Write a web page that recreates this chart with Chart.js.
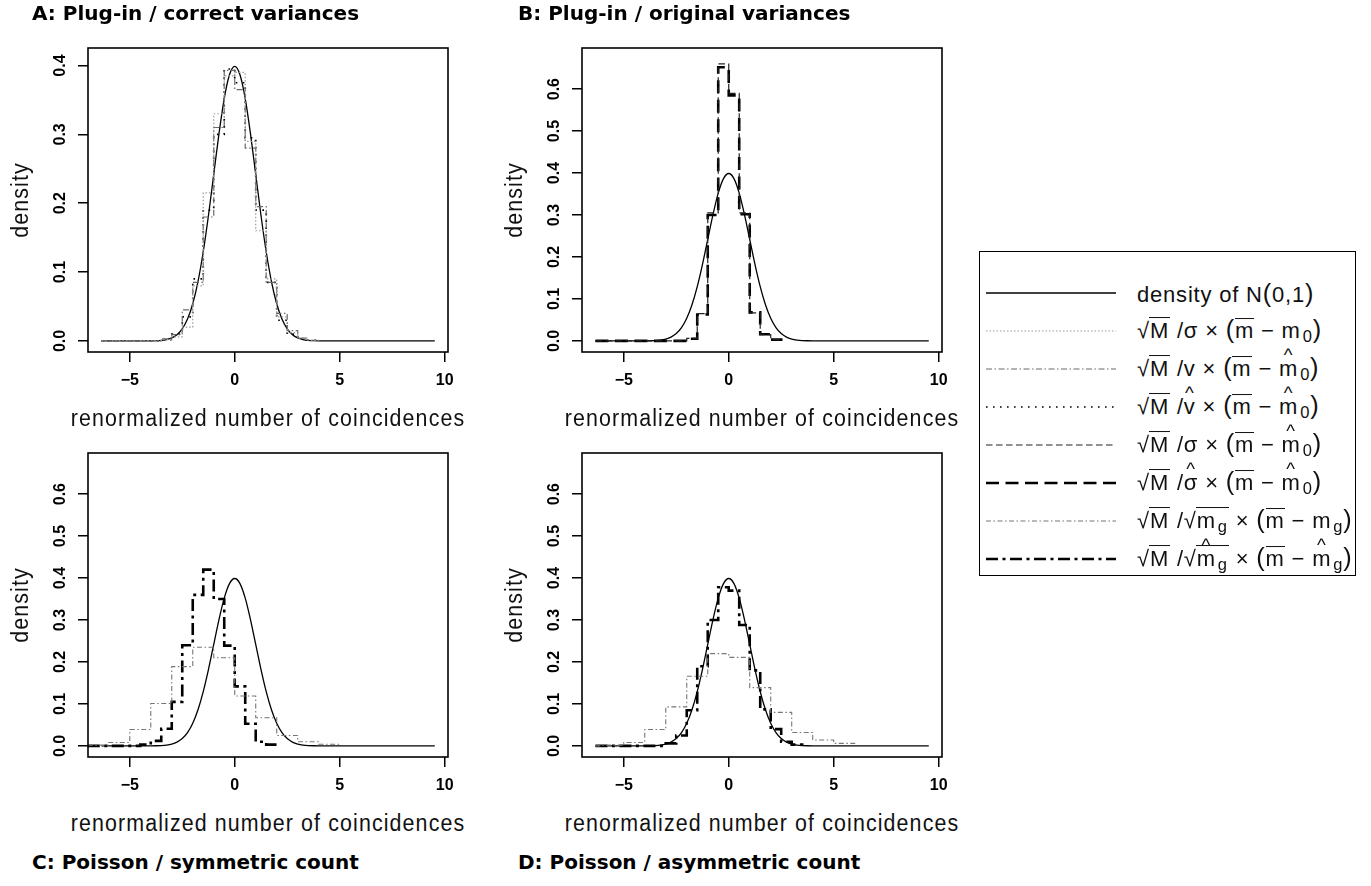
<!DOCTYPE html>
<html>
<head>
<meta charset="utf-8">
<script src="https://cdn.jsdelivr.net/npm/chart.js@4.4.1/dist/chart.umd.min.js"></script>
<style>
  body { margin: 0; background: #fff; }
  #page { position: relative; width: 1371px; height: 886px; overflow: hidden; background: #fff; }
  .panel { position: absolute; }
  .ptitle { position: absolute; font: bold 20px "DejaVu Sans", sans-serif; white-space: nowrap; transform: translateY(-50%); color: #000; }
  .xtitle, .ytitle { position: absolute; font: 23px "Liberation Sans", sans-serif; letter-spacing: 1.2px; white-space: nowrap; color: #111; }
  .xtitle { transform: translate(-50%, -50%) scaleX(0.93); }
  .ytitle { transform: translate(-50%, -50%) rotate(-90deg) scaleX(0.93); }
  #legend { position: absolute; left: 979px; top: 251px; width: 377px; height: 325px; border: 1.5px solid #000; box-sizing: border-box; }
  .lrow { position: absolute; left: 0; height: 36px; width: 100%; }
  .lrow svg { position: absolute; left: 5px; top: 0; }
  .ltext { position: absolute; left: 157px; top: 50%; transform: translateY(-50%); font: 22px "Liberation Sans", sans-serif; letter-spacing: 0.8px; white-space: nowrap; color: #111; }
  .rad { border-top: 1.5px solid #111; padding: 0 1px; margin-left: -1px; }
  .ov { display: inline-block; border-top: 1.5px solid #111; line-height: 1.05; }
  .hat { display: inline-block; position: relative; }
  .hat::before { content: "^"; position: absolute; left: 0; right: 0; text-align: center; top: -0.62em; font-size: 0.85em; }
  .par { font-size: 1.15em; }
  .lrow sub { font-size: 0.75em; vertical-align: -0.3em; margin-left: 2px; }
</style>
</head>
<body>
<div id="page">
  <canvas id="chartA" class="panel" width="470" height="400" style="left:0px;top:0px"></canvas>
  <canvas id="chartB" class="panel" width="470" height="400" style="left:494px;top:0px"></canvas>
  <canvas id="chartC" class="panel" width="470" height="400" style="left:0px;top:405px"></canvas>
  <canvas id="chartD" class="panel" width="470" height="400" style="left:494px;top:405px"></canvas>

  <div class="ptitle" style="left:32px;top:13px">A: Plug-in / correct variances</div>
  <div class="ptitle" style="left:518px;top:13px">B: Plug-in / original variances</div>
  <div class="ptitle" style="left:32px;top:862px">C: Poisson / symmetric count</div>
  <div class="ptitle" style="left:518px;top:862px">D: Poisson / asymmetric count</div>

  <div class="xtitle" style="left:268px;top:418px">renormalized number of coincidences</div>
  <div class="xtitle" style="left:762px;top:418px">renormalized number of coincidences</div>
  <div class="xtitle" style="left:268px;top:823px">renormalized number of coincidences</div>
  <div class="xtitle" style="left:762px;top:823px">renormalized number of coincidences</div>
  <div class="ytitle" style="left:20px;top:200px">density</div>
  <div class="ytitle" style="left:514px;top:200px">density</div>
  <div class="ytitle" style="left:20px;top:605px">density</div>
  <div class="ytitle" style="left:514px;top:605px">density</div>

  <div id="legend"></div>
</div>

<script>
// ---- data ----
const xTicks = [-5, 0, 5, 10];
const yTicksA = [0, 0.1, 0.2, 0.3, 0.4];
const yTicksB = [0, 0.1, 0.2, 0.3, 0.4, 0.5, 0.6];

// density of N(0,1)
const normX = [-6.35, -4.5, -4, -3.75, -3.5, -3.25, -3, -2.75, -2.5, -2.25, -2, -1.75, -1.5, -1.25, -1, -0.75, -0.5, -0.25, 0,
  0.25, 0.5, 0.75, 1, 1.25, 1.5, 1.75, 2, 2.25, 2.5, 2.75, 3, 3.25, 3.5, 3.75, 4, 4.5, 9.53];
const normY = [0, 0.000016, 0.000134, 0.00035, 0.00087, 0.00203, 0.00443, 0.00909, 0.0175, 0.0317, 0.054, 0.0863, 0.1295, 0.1826, 0.242, 0.3011, 0.3521, 0.3867, 0.3989,
  0.3867, 0.3521, 0.3011, 0.242, 0.1826, 0.1295, 0.0863, 0.054, 0.0317, 0.0175, 0.00909, 0.00443, 0.00203, 0.00087, 0.00035, 0.000134, 0.000016, 0];

// A: plug-in / correct variances (bins of 0.5)
const edgesA = [-3.5, -3, -2.5, -2, -1.5, -1, -0.5, 0, 0.5, 1, 1.5, 2, 2.5, 3, 3.5, 4];
const histA_sigma = [0.002, 0.006, 0.02, 0.08, 0.215, 0.33, 0.385, 0.39, 0.29, 0.16, 0.09, 0.035, 0.012, 0.004, 0.001];
const histA_v     = [0.003, 0.009, 0.045, 0.085, 0.18, 0.31, 0.393, 0.365, 0.28, 0.195, 0.085, 0.04, 0.015, 0.004, 0.001];
const histA_vhat  = [0.002, 0.01, 0.035, 0.09, 0.19, 0.3, 0.395, 0.375, 0.295, 0.19, 0.085, 0.03, 0.01, 0.003, 0.001];

// B: plug-in / original variances
const edgesB = [-2, -1.5, -1, -0.5, 0, 0.5, 1, 1.5, 2, 2.5];
const histB_sigma    = [0.006, 0.065, 0.305, 0.66, 0.59, 0.305, 0.067, 0.015, 0.003];
const histB_sigmahat = [0.005, 0.063, 0.3, 0.652, 0.585, 0.302, 0.068, 0.016, 0.003];

// C: Poisson / symmetric count
const edgesC_mg = [-7, -6, -5, -4, -3, -2, -1, 0, 1, 2, 3, 4, 5];
const histC_mg = [0.002, 0.008, 0.039, 0.101, 0.189, 0.235, 0.21, 0.119, 0.067, 0.025, 0.01, 0.004];
const edgesC_mghat = [-4.5, -4, -3.5, -3, -2.5, -2, -1.5, -1, -0.5, 0, 0.5, 1, 1.5, 2];
const histC_mghat = [0.003, 0.012, 0.041, 0.105, 0.24, 0.36, 0.42, 0.35, 0.239, 0.142, 0.053, 0.01, 0.003];

// D: Poisson / asymmetric count
const edgesD_mg = [-6, -5, -4, -3, -2, -1, 0, 1, 2, 3, 4, 5, 6];
const histD_mg = [0.002, 0.008, 0.039, 0.093, 0.166, 0.22, 0.211, 0.139, 0.08, 0.032, 0.014, 0.006];
const edgesD_mghat = [-3, -2.5, -2, -1.5, -1, -0.5, 0, 0.5, 1, 1.5, 2, 2.5, 3, 3.5];
const histD_mghat = [0.006, 0.025, 0.085, 0.19, 0.3, 0.378, 0.37, 0.288, 0.18, 0.087, 0.04, 0.01, 0.003];

// ---- styles ----
const st = {
  norm:     { color: '#000', width: 1.3, dash: [] },
  sigma0:   { color: '#9a9a9a', width: 1.2, dash: [1.5, 2] },
  v:        { color: '#6a6a6a', width: 1.2, dash: [6, 2.5, 1.5, 2.5] },
  vhat:     { color: '#000', width: 1.7, dash: [1.6, 5.4] },
  sigma:    { color: '#222', width: 1.2, dash: [6.5, 3.5] },
  sigmahat: { color: '#000', width: 2.6, dash: [13, 6.5] },
  mg:       { color: '#777', width: 1.1, dash: [5, 2.5, 1.5, 2.5] },
  mghat:    { color: '#000', width: 2.6, dash: [12, 4.5, 3, 4.5] }
};

const P = s => '<span class="par">' + s + '</span>';
const legendItems = [
  ['norm', 'density of N' + P('(') + '0,1' + P(')')],
  ['sigma0', '&radic;<span class="rad">M</span> /&sigma; &times; ' + P('(') + '<span class="ov">m</span> &minus; m<sub>0</sub>' + P(')')],
  ['v', '&radic;<span class="rad">M</span> /v &times; ' + P('(') + '<span class="ov">m</span> &minus; <span class="hat">m</span><sub>0</sub>' + P(')')],
  ['vhat', '&radic;<span class="rad">M</span> /<span class="hat">v</span> &times; ' + P('(') + '<span class="ov">m</span> &minus; <span class="hat">m</span><sub>0</sub>' + P(')')],
  ['sigma', '&radic;<span class="rad">M</span> /&sigma; &times; ' + P('(') + '<span class="ov">m</span> &minus; <span class="hat">m</span><sub>0</sub>' + P(')')],
  ['sigmahat', '&radic;<span class="rad">M</span> /<span class="hat">&sigma;</span> &times; ' + P('(') + '<span class="ov">m</span> &minus; <span class="hat">m</span><sub>0</sub>' + P(')')],
  ['mg', '&radic;<span class="rad">M</span> /&radic;<span class="rad">m<sub>g</sub></span> &times; ' + P('(') + '<span class="ov">m</span> &minus; m<sub>g</sub>' + P(')')],
  ['mghat', '&radic;<span class="rad">M</span> /&radic;<span class="rad"><span class="hat">m</span><sub>g</sub></span> &times; ' + P('(') + '<span class="ov">m</span> &minus; <span class="hat">m</span><sub>g</sub>' + P(')')]
];

// ---- helpers ----
function steps(edges, heights, start) {
  const pts = [];
  if (start !== undefined && start < edges[0]) pts.push({ x: start, y: 0 });
  heights.forEach((h, i) => pts.push({ x: edges[i], y: h }));
  pts.push({ x: edges[edges.length - 1], y: 0 });
  return pts;
}

function histSet(edges, heights, s, start) {
  return {
    data: steps(edges, heights, start),
    showLine: true, stepped: 'before', pointRadius: 0,
    borderColor: s.color, borderWidth: s.width, borderDash: s.dash, fill: false
  };
}

function normSet() {
  return {
    data: normX.map((x, i) => ({ x: x, y: normY[i] })),
    showLine: true, pointRadius: 0, cubicInterpolationMode: 'monotone',
    borderColor: st.norm.color, borderWidth: st.norm.width, fill: false
  };
}

const boxPlugin = {
  id: 'box',
  afterDraw(chart) {
    const { ctx, chartArea: a } = chart;
    ctx.save();
    ctx.strokeStyle = '#000';
    ctx.lineWidth = 1.6;
    ctx.strokeRect(a.left, a.top, a.right - a.left, a.bottom - a.top);
    ctx.restore();
  }
};

const tickFont = { family: '"Liberation Sans", sans-serif', weight: 'bold', size: 16 };

function makeChart(id, datasets, yMin, yMax, yTicks) {
  return new Chart(document.getElementById(id), {
    type: 'scatter',
    data: { datasets: datasets },
    options: {
      responsive: false, animation: false, devicePixelRatio: 1,
      layout: { padding: { top: 48, right: 22, left: 0, bottom: 0 } },
      plugins: { legend: { display: false }, tooltip: { enabled: false } },
      scales: {
        x: {
          type: 'linear', min: -6.99, max: 10.16,
          afterBuildTicks: s => { s.ticks = xTicks.map(v => ({ value: v })); },
          afterFit: s => { s.height = 48; },
          border: { display: false },
          grid: { drawOnChartArea: false, drawTicks: true, tickLength: 10, color: '#000', lineWidth: 1.5 },
          ticks: { font: tickFont, color: '#000', padding: 9, maxRotation: 0, autoSkip: false,
            callback: v => (v < 0 ? '\u2212' + Math.abs(v) : String(v)) }
        },
        y: {
          type: 'linear', min: yMin, max: yMax,
          afterBuildTicks: s => { s.ticks = yTicks.map(v => ({ value: v })); },
          afterFit: s => { s.width = 88; },
          border: { display: false },
          grid: { drawOnChartArea: false, drawTicks: true, tickLength: 10, color: '#000', lineWidth: 1.5 },
          ticks: { font: tickFont, color: '#000', padding: 6, minRotation: 90, maxRotation: 90,
            crossAlign: 'center', autoSkip: false, callback: v => v.toFixed(1) }
        }
      }
    },
    plugins: [boxPlugin]
  });
}

makeChart('chartA', [
  histSet(edgesA, histA_sigma, st.sigma0, -6.35),
  histSet(edgesA, histA_v, st.v, -6.35),
  histSet(edgesA, histA_vhat, st.vhat, -6.35),
  normSet()
], -0.0161, 0.4255, yTicksA);

makeChart('chartB', [
  histSet(edgesB, histB_sigma, st.sigma, -6.35),
  histSet(edgesB, histB_sigmahat, st.sigmahat, -6.35),
  normSet()
], -0.0264, 0.698, yTicksB);

makeChart('chartC', [
  histSet(edgesC_mg, histC_mg, st.mg, -7),
  histSet(edgesC_mghat, histC_mghat, st.mghat, -7),
  normSet()
], -0.0264, 0.698, yTicksB);

makeChart('chartD', [
  histSet(edgesD_mg, histD_mg, st.mg, -6.35),
  histSet(edgesD_mghat, histD_mghat, st.mghat, -6.35),
  normSet()
], -0.0264, 0.698, yTicksB);

// ---- legend ----
const legend = document.getElementById('legend');
legendItems.forEach((item, i) => {
  const s = st[item[0]];
  const row = document.createElement('div');
  row.className = 'lrow';
  row.style.top = (40.5 + i * 38 - 18) + 'px';
  row.innerHTML =
    '<svg width="132" height="36"><line x1="1" y1="18" x2="131" y2="18" stroke="' + s.color +
    '" stroke-width="' + s.width + '" stroke-dasharray="' + (s.dash.length ? s.dash.join(' ') : 'none') + '"/></svg>' +
    '<span class="ltext">' + item[1] + '</span>';
  legend.appendChild(row);
});
</script>
</body>
</html>
